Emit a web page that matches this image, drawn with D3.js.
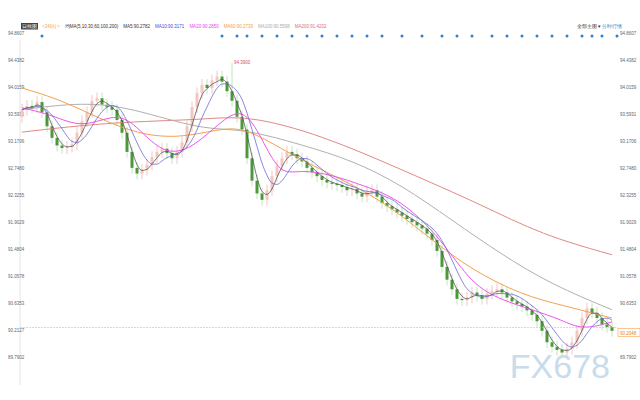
<!DOCTYPE html>
<html><head><meta charset="utf-8">
<script src="https://cdn.jsdelivr.net/npm/d3@7"></script>
<style>body{margin:0;background:#fff}text{font-family:"Liberation Sans",Arial,sans-serif}</style>
</head><body>
<script>
var closes = [93.66,93.72,93.70,93.78,93.62,93.40,93.22,93.10,93.06,93.08,93.12,93.30,93.48,93.62,93.80,93.84,93.74,93.70,93.66,93.50,
93.30,93.00,92.75,92.66,92.72,92.80,92.92,93.00,93.05,92.98,92.90,93.00,93.15,93.40,93.70,93.92,94.05,94.00,94.12,94.18,
94.10,93.95,93.80,93.55,93.35,92.90,92.55,92.35,92.25,92.40,92.62,92.78,92.90,93.00,92.96,92.90,92.85,92.75,92.68,92.62,
92.56,92.52,92.50,92.48,92.45,92.40,92.42,92.35,92.30,92.38,92.40,92.30,92.20,92.15,92.10,92.05,92.00,91.95,91.90,91.85,
91.80,91.72,91.62,91.45,91.20,91.00,90.85,90.70,90.68,90.72,90.80,90.75,90.70,90.78,90.82,90.85,90.80,90.72,90.66,90.62,
90.58,90.52,90.45,90.35,90.20,90.02,89.95,89.90,89.86,89.92,90.02,90.20,90.40,90.55,90.48,90.40,90.30,90.26,90.20];
var firstOpen = 93.55;
var spikes = [[42, 94.39]];
var ma20 = [[0,93.69],[6,93.58],[12,93.37],[18,93.58],[22,93.50],[28,92.95],[34,93.03],[41,93.58],[45,93.66],[49,93.03],[52,92.64],[56,92.72],[62,92.64],[68,92.48],[76,92.25],[84,91.62],[90,90.92],[96,90.68],[102,90.53],[108,90.37],[112,90.21],[118,90.34]];
var ma60 = [[0,94.00],[8,93.81],[16,93.50],[24,93.26],[32,93.22],[40,93.37],[45,93.37],[54,92.95],[62,92.64],[72,92.25],[82,91.62],[90,91.15],[100,90.76],[108,90.60],[118,90.40]];
var ma100 = [[0,93.66],[12,93.78],[22,93.69],[36,93.34],[44,93.37],[56,93.11],[66,92.87],[76,92.48],[86,91.93],[96,91.39],[106,90.92],[118,90.53]];
var ma200 = [[0,93.31],[18,93.47],[36,93.50],[45,93.58],[60,93.26],[76,92.72],[92,92.17],[104,91.70],[118,91.39]];
var eventDots = [2,38,41,43,46,49,52,55,58,61,64,67,70,74,78,82,85,88,92,95,98,101,104,107,110,112,114,117];
var yTicks = [94.8607,94.4382,94.0159,93.5931,93.1706,92.7480,92.3255,91.9029,91.4804,91.0578,90.6353,90.2127,89.7902];
var lastPrice = 90.2048;

var W = 640, H = 400;
var svg = d3.select("body").append("svg").attr("width", W).attr("height", H);
var x = d3.scaleLinear().domain([0, closes.length - 1]).range([22, 612]);
var y = d3.scaleLinear().domain([89.7902, 94.8607]).range([357, 33]);

svg.append("line").attr("x1",20).attr("x2",20).attr("y1",40).attr("y2",385).attr("stroke","#e4e4e4");

// axis labels both sides (right one hidden behind the last price label)
svg.selectAll(null).data(yTicks).enter().append("text")
  .attr("x", 8).attr("y", function(d){return y(d)+2})
  .attr("font-size",4.5).attr("fill","#666").text(function(d){return d.toFixed(4)});
svg.selectAll(null).data(yTicks.filter(function(d){return Math.abs(d-lastPrice)>0.1})).enter().append("text")
  .attr("x", 620).attr("y", function(d){return y(d)+2})
  .attr("font-size",4.5).attr("fill","#666").text(function(d){return d.toFixed(4)});

// candles
var candles = closes.map(function(c,i){
  var o = i ? closes[i-1] : firstOpen;
  var hi = Math.max(o,c)+0.09, lo = Math.min(o,c)-0.09;
  spikes.forEach(function(s){ if(s[0]===i) hi = s[1]; });
  return {i:i,o:o,c:c,h:hi,l:lo};
});
var g = svg.append("g");
g.selectAll("line").data(candles).enter().append("line")
  .attr("x1",function(d){return x(d.i)}).attr("x2",function(d){return x(d.i)})
  .attr("y1",function(d){return y(d.h)}).attr("y2",function(d){return y(d.l)})
  .attr("stroke",function(d){return d.c>=d.o?"#f0b8b0":"#b8dcb0"}).attr("stroke-width",0.8);
g.selectAll("rect").data(candles).enter().append("rect")
  .attr("x",function(d){return x(d.i)-1.5}).attr("width",3)
  .attr("y",function(d){return y(Math.max(d.o,d.c))})
  .attr("height",function(d){return Math.max(0.8,Math.abs(y(d.o)-y(d.c)))})
  .attr("fill",function(d){return d.c>=d.o?"#f3c6bf":"#4a9a3a"});

// moving averages
function movAvg(n){ return closes.map(function(c,i){ var s=closes.slice(Math.max(0,i-n+1),i+1); return [i,d3.mean(s)]; }); }
var line = d3.line().x(function(d){return x(d[0])}).y(function(d){return y(d[1])}).curve(d3.curveMonotoneX);
var lineB = d3.line().x(function(d){return x(d[0])}).y(function(d){return y(d[1])}).curve(d3.curveBasis);
[[ma200,"#e08a80"],[ma100,"#b0b0b0"],[ma60,"#f5a050"],[ma20,"#ee55ee"]].forEach(function(m){
  svg.append("path").attr("d",lineB(m[0])).attr("fill","none").attr("stroke",m[1]).attr("stroke-width",1);
});
svg.append("path").attr("d",line(movAvg(3))).attr("fill","none").attr("stroke","#555").attr("stroke-width",0.8);
svg.append("path").attr("d",line(movAvg(6))).attr("fill","none").attr("stroke","#6a6ad0").attr("stroke-width",0.8);

// max label
svg.append("text").attr("x",x(spikes[0][0])+2).attr("y",y(spikes[0][1])+1).attr("font-size",4.5).attr("fill","#e05050").text(spikes[0][1].toFixed(4));

// last price
svg.append("line").attr("x1",20).attr("x2",618).attr("y1",y(lastPrice)-3).attr("y2",y(lastPrice)-3)
  .attr("stroke","#9ac8ee").attr("stroke-width",0.6).attr("stroke-dasharray","2,1");
svg.append("rect").attr("x",618).attr("y",y(lastPrice)-2).attr("width",22).attr("height",8).attr("fill","#fff").attr("stroke","#f5a050").attr("stroke-width",0.6);
svg.append("text").attr("x",620).attr("y",y(lastPrice)+4).attr("font-size",4.5).attr("fill","#f08020").text(lastPrice.toFixed(4));

// event dots
svg.selectAll("circle").data(eventDots).enter().append("circle")
  .attr("cx",function(d){return x(d)+10}).attr("cy",36).attr("r",1.5).attr("fill","#2f7fd0");

// legend
var leg = [["日线图",  "#fff"],["<240分>","#f5a050"],["均MA(5,10,30,60,100,200)","#333"],["MA5:90.2782","#333"],["MA10:90.3171","#4a4ad0"],["MA20:90.2850","#ee44ee"],["MA60:90.2739","#f5a050"],["MA100:90.5598","#aaa"],["MA200:91.4202","#e07070"]];
var lx = 22;
leg.forEach(function(l,i){
  var t = svg.append("text").attr("x",lx).attr("y",28).attr("font-size",4.5).attr("fill",l[1]).text(l[0]);
  var w = t.node().getComputedTextLength();
  if(i===0) svg.insert("rect","text").attr("x",lx-1).attr("y",23).attr("width",w+2).attr("height",6.5).attr("fill","#444");
  lx += w + 5;
});
svg.append("text").attr("x",577).attr("y",28).attr("font-size",4.5).attr("fill","#333").text("全部主图▼");
svg.append("text").attr("x",602).attr("y",28).attr("font-size",4.5).attr("fill","#2f7fd0").text("分时行情");

// watermark
svg.append("text").attr("x",610).attr("y",378).attr("text-anchor","end").attr("font-size",34)
  .attr("fill","#c8dcec").attr("font-family","DejaVu Sans").text("FX678");
</script>
</body></html>
